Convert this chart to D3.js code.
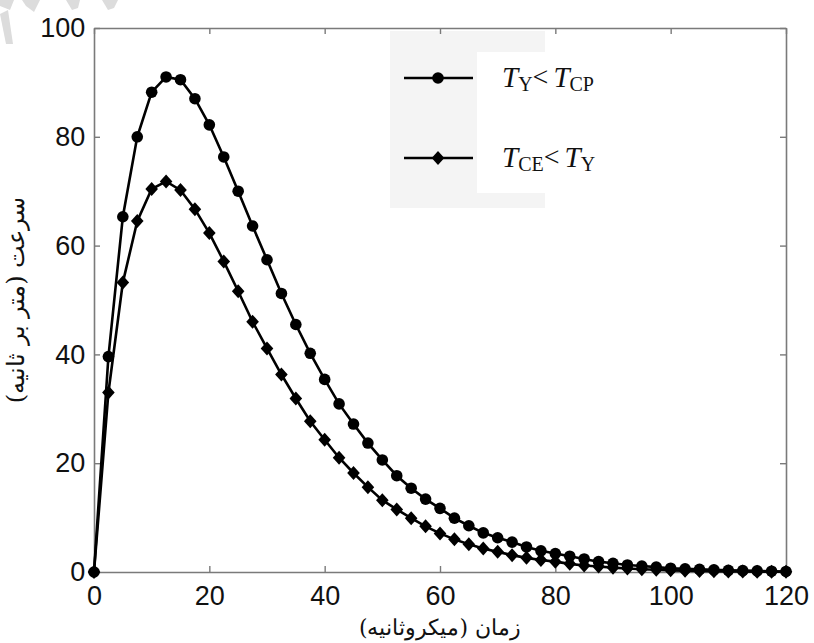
<!DOCTYPE html>
<html>
<head>
<meta charset="utf-8">
<script src="https://cdn.jsdelivr.net/npm/d3@7"></script>
<style>
  html, body { margin: 0; padding: 0; background: #fff; }
  svg { display: block; }
</style>
</head>
<body>
<svg id="chart" width="814" height="643"></svg>
<script>
// Time samples (microseconds)
const times = [0, 2.5, 5, 7.5, 10, 12.5, 15, 17.5, 20, 22.5, 25, 27.5, 30, 32.5, 35, 37.5,
  40, 42.5, 45, 47.5, 50, 52.5, 55, 57.5, 60, 62.5, 65, 67.5, 70, 72.5, 75, 77.5,
  80, 82.5, 85, 87.5, 90, 92.5, 95, 97.5, 100, 102.5, 105, 107.5, 110, 112.5, 115, 117.5, 120];

// Velocity (m/s), case T_Y < T_CP  (circle markers)
const velocityCP = [0, 39.6, 65.3, 80, 88.2, 91, 90.5, 87, 82.2, 76.3, 70, 63.6, 57.4, 51.2, 45.5, 40.2,
  35.4, 30.9, 27.2, 23.7, 20.6, 17.7, 15.4, 13.4, 11.7, 9.9, 8.5, 7.2, 6.3, 5.5, 4.6, 3.9,
  3.4, 2.9, 2.4, 1.9, 1.6, 1.3, 1.1, 0.9, 0.7, 0.6, 0.5, 0.4, 0.3, 0.25, 0.2, 0.15, 0.1];

// Velocity (m/s), case T_CE < T_Y  (diamond markers)
const velocityCE = [0, 33, 53.2, 64.5, 70.4, 71.8, 70.2, 66.7, 62.3, 57.1, 51.6, 46, 41.1, 36.3, 31.9, 27.7,
  24.3, 21, 18.2, 15.6, 13.2, 11.5, 9.9, 8.4, 7.1, 6, 5.1, 4.3, 3.7, 3.1, 2.6, 2.2,
  1.9, 1.5, 1.2, 1.0, 0.8, 0.65, 0.5, 0.4, 0.3, 0.25, 0.2, 0.15, 0.1, 0.1, 0.05, 0.05, 0.05];

const xTicks = [0, 20, 40, 60, 80, 100, 120];
const yTicks = [0, 20, 40, 60, 80, 100];

const xLabel = "زمان (میکروثانیه)";
const yLabel = "سرعت (متر بر ثانیه)";

const svg = d3.select("#chart");
const plotLeft = 94, plotRight = 786, plotTop = 28, plotBottom = 572;

const x = d3.scaleLinear().domain([0, 120]).range([plotLeft, plotRight]);
const y = d3.scaleLinear().domain([0, 100]).range([plotBottom, plotTop]);

// decorative light-grey strokes in the upper-left corner
const deco = svg.append("g").attr("fill", "#dcdcdc");
deco.append("polygon").attr("points", "0,0 14,0 10,10 0,6");
deco.append("polygon").attr("points", "0,14 8,10 13,44 6,44");
deco.append("polygon").attr("points", "22,0 40,0 34,12 26,6");
deco.append("polygon").attr("points", "66,0 80,0 78,8 72,10");
deco.append("polygon").attr("points", "102,0 118,0 114,8 108,10");

// legend background panels (drawn under the plot)
svg.append("rect").attr("x", 390).attr("y", 31).attr("width", 155).attr("height", 177).attr("fill", "#f4f4f4");
svg.append("rect").attr("x", 477).attr("y", 52).attr("width", 68).attr("height", 141).attr("fill", "#ffffff");

const axisColor = "#7a7a7a";
const tickLen = 6;

// axes with inward ticks on all four sides
const gx = svg.append("g").attr("transform", `translate(0,${plotBottom})`)
  .call(d3.axisBottom(x).tickValues(xTicks).tickSizeInner(-tickLen).tickSizeOuter(0).tickPadding(10));
const gxTop = svg.append("g").attr("transform", `translate(0,${plotTop})`)
  .call(d3.axisTop(x).tickValues(xTicks).tickSizeInner(-tickLen).tickSizeOuter(0).tickFormat(""));
const gy = svg.append("g").attr("transform", `translate(${plotLeft},0)`)
  .call(d3.axisLeft(y).tickValues(yTicks).tickSizeInner(-tickLen).tickSizeOuter(0).tickPadding(10));
const gyRight = svg.append("g").attr("transform", `translate(${plotRight},0)`)
  .call(d3.axisRight(y).tickValues(yTicks).tickSizeInner(-tickLen).tickSizeOuter(0).tickFormat(""));

[gx, gxTop, gy, gyRight].forEach(g => {
  g.select(".domain").attr("stroke", axisColor).attr("stroke-width", 1.6);
  g.selectAll(".tick line").attr("stroke", axisColor).attr("stroke-width", 1.4);
  g.selectAll(".tick text")
    .attr("fill", "#111")
    .style("font-family", "Arial, 'Liberation Sans', sans-serif")
    .style("font-size", "27px");
});
gx.selectAll(".tick text").attr("dy", "0.85em");
gy.selectAll(".tick text").attr("dx", "0.05em");

// curves
const line = d3.line().x((d, i) => x(times[i])).y(d => y(d));

const plot = svg.append("g");
plot.append("path").datum(velocityCE)
  .attr("d", line).attr("fill", "none").attr("stroke", "#000").attr("stroke-width", 2.6);
plot.append("path").datum(velocityCP)
  .attr("d", line).attr("fill", "none").attr("stroke", "#000").attr("stroke-width", 2.6);

const diamond = (cx, cy, r) => `M${cx},${cy - r}L${cx + r * 0.9},${cy}L${cx},${cy + r}L${cx - r * 0.9},${cy}Z`;

plot.selectAll(".mk-ce").data(velocityCE).enter().append("path")
  .attr("class", "mk-ce")
  .attr("d", (d, i) => diamond(x(times[i]), y(d), 7))
  .attr("fill", "#000");

plot.selectAll(".mk-cp").data(velocityCP).enter().append("circle")
  .attr("class", "mk-cp")
  .attr("cx", (d, i) => x(times[i])).attr("cy", d => y(d)).attr("r", 5.8)
  .attr("fill", "#000");

// legend
const legend = svg.append("g");
const legendItems = [
  { ty: 78, kind: "circle", main1: "T", sub1: "Y", rel: "<", main2: "T", sub2: "CP" },
  { ty: 158, kind: "diamond", main1: "T", sub1: "CE", rel: "<", main2: "T", sub2: "Y" }
];
legendItems.forEach(it => {
  legend.append("line").attr("x1", 404).attr("x2", 473).attr("y1", it.ty).attr("y2", it.ty)
    .attr("stroke", "#000").attr("stroke-width", 2.6);
  if (it.kind === "circle") {
    legend.append("circle").attr("cx", 438).attr("cy", it.ty).attr("r", 5.8).attr("fill", "#000");
  } else {
    legend.append("path").attr("d", diamond(438, it.ty, 7)).attr("fill", "#000");
  }
  const t = legend.append("text").attr("x", 502).attr("y", it.ty + 9)
    .style("font-family", "'Liberation Serif', 'Times New Roman', serif")
    .attr("fill", "#111");
  t.append("tspan").text(it.main1).style("font-style", "italic").style("font-size", "29px");
  t.append("tspan").text(it.sub1).style("font-size", "20px").attr("dy", 4);
  t.append("tspan").text(it.rel).style("font-size", "28px").attr("dy", -5);
  t.append("tspan").text("\u00a0").style("font-size", "20px");
  t.append("tspan").text(it.main2).style("font-style", "italic").style("font-size", "29px").attr("dy", 1);
  t.append("tspan").text(it.sub2).style("font-size", "20px").attr("dy", 4);
});

// axis titles
svg.append("text")
  .attr("x", 440).attr("y", 635)
  .attr("text-anchor", "middle")
  .attr("direction", "rtl")
  .style("font-family", "'DejaVu Serif', 'Noto Sans', serif")
  .style("font-size", "22px")
  .attr("fill", "#111")
  .text(xLabel);

svg.append("text")
  .attr("transform", "translate(24,300) rotate(-90)")
  .attr("text-anchor", "middle")
  .attr("direction", "rtl")
  .style("font-family", "'DejaVu Serif', 'Noto Sans', serif")
  .style("font-size", "24px")
  .attr("fill", "#111")
  .text(yLabel);
</script>
</body>
</html>
